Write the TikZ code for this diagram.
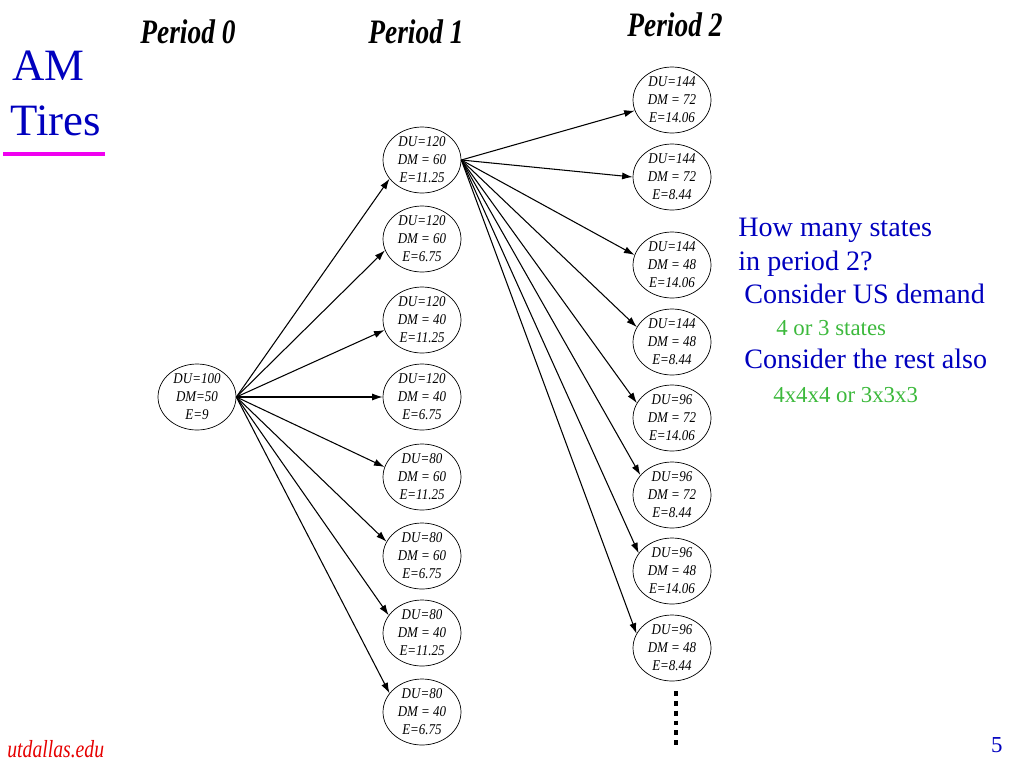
\documentclass[tikz,border=0pt]{standalone}
\usepackage{fontspec}
\setmainfont{Liberation Serif}
\newfontfamily\narrowfont[FakeStretch=0.8]{Liberation Serif}
\newfontfamily\nodefont[FakeStretch=0.87]{Liberation Serif}
\usepackage{xcolor}
\usetikzlibrary{shapes,arrows,arrows.meta,positioning}
\definecolor{titleblue}{RGB}{0,0,190}
\definecolor{notegreen}{RGB}{60,185,60}
\definecolor{barmagenta}{RGB}{240,0,240}
\definecolor{footred}{RGB}{230,0,0}
\tikzset{
stnode/.style={
  draw, ellipse, align=center,
  minimum width=1.56cm, minimum height=1.32cm,
  inner xsep=0pt, inner ysep=-1pt,
  font=\nodefont\fontsize{8.5}{10.2}\selectfont\itshape
},
period/.style={anchor=base west, font=\narrowfont\fontsize{19.5}{22}\selectfont\bfseries\itshape},
note/.style={anchor=base west, text=titleblue, font=\fontsize{16}{18}\selectfont},
subnote/.style={anchor=base west, text=notegreen, font=\fontsize{13}{15}\selectfont},
link/.style={-{Latex[length=6pt,width=4pt]}, line width=0.6pt},
}

\begin{document}
\begin{tikzpicture}[x=0.02cm, y=-0.02cm]
            \useasboundingbox (0,0) rectangle (1024,768);
            % title
            \node (am) [anchor=base west, text=titleblue, font=\fontsize{25.5}{28}\selectfont, inner sep=0pt] at (12,80) {AM};
            \node (tires) [anchor=base west, text=titleblue, font=\fontsize{25.5}{28}\selectfont, inner sep=0pt] at (10,135) {Tires};
            \fill[barmagenta] (3,152) rectangle (105,156);
            % headers
            \node (h0) [period, inner sep=0pt] at (140,43) {Period 0};
            \node (h1) [period, inner sep=0pt] at (368,43) {Period 1};
            \node (h2) [period, inner sep=0pt] at (627,36) {Period 2};
            % period 0
            \node (p0) [stnode] at (197,397) {DU=100\\DM=50\\E=9};
            % period 1
            \node (a1) [stnode] at (422,160) {DU=120\\DM = 60\\E=11.25};
            \node (a2) [stnode] at (422,239) {DU=120\\DM = 60\\E=6.75};
            \node (a3) [stnode] at (422,320) {DU=120\\DM = 40\\E=11.25};
            \node (a4) [stnode] at (422,397) {DU=120\\DM = 40\\E=6.75};
            \node (a5) [stnode] at (422,477) {DU=80\\DM = 60\\E=11.25};
            \node (a6) [stnode] at (422,556) {DU=80\\DM = 60\\E=6.75};
            \node (a7) [stnode] at (422,633) {DU=80\\DM = 40\\E=11.25};
            \node (a8) [stnode] at (422,712) {DU=80\\DM = 40\\E=6.75};
            % period 2
            \node (b1) [stnode] at (672,100) {DU=144\\DM = 72\\E=14.06};
            \node (b2) [stnode] at (672,177) {DU=144\\DM = 72\\E=8.44};
            \node (b3) [stnode] at (672,265) {DU=144\\DM = 48\\E=14.06};
            \node (b4) [stnode] at (672,342) {DU=144\\DM = 48\\E=8.44};
            \node (b5) [stnode] at (672,418) {DU=96\\DM = 72\\E=14.06};
            \node (b6) [stnode] at (672,495) {DU=96\\DM = 72\\E=8.44};
            \node (b7) [stnode] at (672,571) {DU=96\\DM = 48\\E=14.06};
            \node (b8) [stnode] at (672,648) {DU=96\\DM = 48\\E=8.44};
            % edges
            \draw[link] (p0.east) -- (a1.210);
            \draw[link] (p0.east) -- (a2.197);
            \draw[link] (p0.east) -- (a3.195);
            \draw[link] (p0.east) -- (a4.west);
            \draw[link] (p0.east) -- (a5.165);
            \draw[link] (p0.east) -- (a6.158);
            \draw[link] (p0.east) -- (a7.152);
            \draw[link] (p0.east) -- (a8.150);
            \draw[link] (a1.east) -- (b1);
            \draw[link] (a1.east) -- (b2.west);
            \draw[link] (a1.east) -- (b3.165);
            \draw[link] (a1.east) -- (b4.157);
            \draw[link] (a1.east) -- (b5.157);
            \draw[link] (a1.east) -- (b6.148);
            \draw[link] (a1.east) -- (b7.152);
            \draw[link] (a1.east) -- (b8.158);
            % more states
            \coordinate (dtop) at (676,691);
            \coordinate (dbot) at (676,746);
            \draw[line width=2pt, dash pattern=on 2.8pt off 2.8pt] (dtop) -- (dbot);
            % notes
            \node (n1) [note, inner sep=0pt] at (738,236) {How many states};
            \node (n2) [note, inner sep=0pt] at (738,270) {in period 2?};
            \node (n3) [note, inner sep=0pt] at (744,303) {Consider US demand};
            \node (n4) [subnote, inner sep=0pt] at (776,335) {4 or 3 states};
            \node (n5) [note, inner sep=0pt] at (744,368) {Consider the rest also};
            \node (n6) [subnote, inner sep=0pt] at (773,402) {4x4x4 or 3x3x3};
            % footer
            \node (foot) [anchor=base west, text=footred, inner sep=0pt, font=\narrowfont\fontsize{14}{16}\selectfont\itshape] at (7,757) {utdallas.edu};
            \node (page) [anchor=base east, text=titleblue, inner sep=0pt, font=\fontsize{13}{15}\selectfont] at (1003,752) {5};
\end{tikzpicture}
\end{document}
